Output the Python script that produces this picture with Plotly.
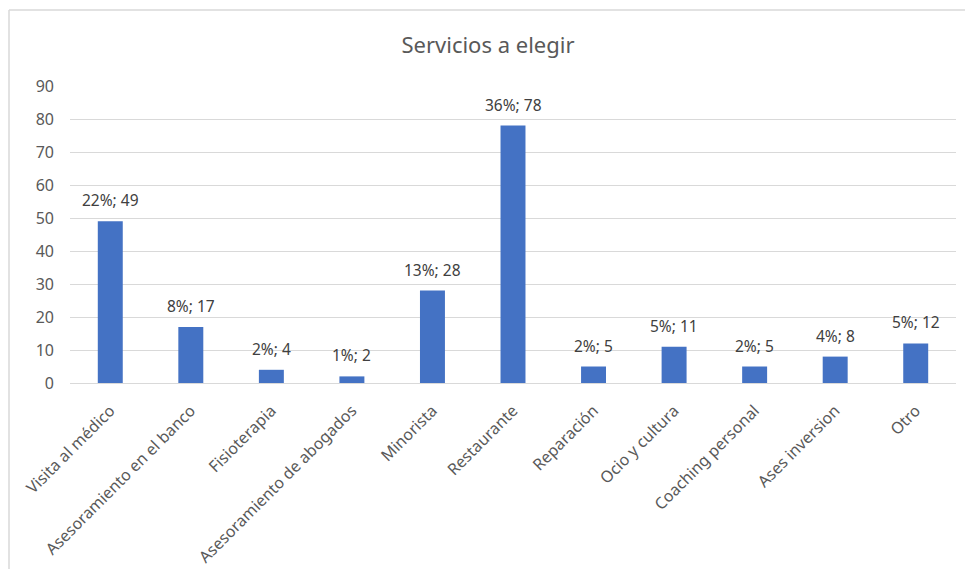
import plotly.graph_objects as go

categories = ["Visita al médico", "Asesoramiento en el banco", "Fisioterapia",
              "Asesoramiento de abogados", "Minorista", "Restaurante", "Reparación",
              "Ocio y cultura", "Coaching personal", "Ases inversion", "Otro"]
values = [49, 17, 4, 2, 28, 78, 5, 11, 5, 8, 12]
percents = [22, 8, 2, 1, 13, 36, 2, 5, 2, 4, 5]
title_text = "Servicios a elegir"

labels = [f"{p}%; {v}" for p, v in zip(percents, values)]

W, H = 965, 569
ml, mr, mt, mb = 70, 9, 86, 186
pw, ph = W - ml - mr, H - mt - mb

fig = go.Figure(go.Bar(
    x=categories, y=values,
    marker=dict(color="#4472C4", line=dict(width=0)),
    hoverinfo="x+y",
))

annotations = [
    dict(x=c, y=v, text=t, xref="x", yref="y", showarrow=False,
         yanchor="bottom", xanchor="center", yshift=8,
         font=dict(family="Noto Sans", size=15.5, color="#404040"))
    for c, v, t in zip(categories, values, labels)
]

def px_x(p):
    return (p - ml) / pw

def px_y(p):
    return 1 - (p - mt) / ph

fig.update_layout(
    width=W, height=H,
    margin=dict(l=ml, r=mr, t=mt, b=mb, autoexpand=False),
    paper_bgcolor="white", plot_bgcolor="white",
    bargap=0.69,
    showlegend=False,
    annotations=annotations,
    title=dict(text=title_text, xref="container", x=488 / W, xanchor="center",
               y=1 - 45 / H, yanchor="middle",
               font=dict(family="Noto Sans", size=22, color="#595959")),
    xaxis=dict(tickangle=-45, tickfont=dict(family="Noto Sans", size=16, color="#595959"),
               showgrid=False, showline=True, linecolor="#D9D9D9", linewidth=1,
               ticks="", fixedrange=True, ticklabelstandoff=11, automargin=False),
    yaxis=dict(range=[0, 90], dtick=10, tickfont=dict(family="Noto Sans", size=16, color="#595959"),
               showgrid=True, gridcolor="#D9D9D9", gridwidth=1, zeroline=False,
               showline=False, ticks="", ticklabelstandoff=15, automargin=False),
    shapes=[
        dict(type="line", xref="paper", yref="paper", x0=px_x(9), x1=px_x(965), y0=px_y(10), y1=px_y(10),
             line=dict(color="#D9D9D9", width=1.5)),
        dict(type="line", xref="paper", yref="paper", x0=px_x(9), x1=px_x(9), y0=px_y(10), y1=px_y(569),
             line=dict(color="#D9D9D9", width=1.5)),
    ],
)

fig.write_html("out.html")
